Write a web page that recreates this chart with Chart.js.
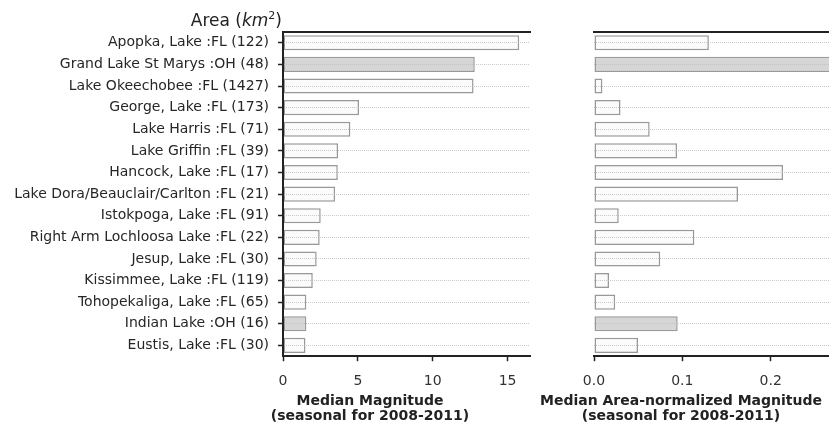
<!DOCTYPE html>
<html>
<head>
<meta charset="utf-8">
<script src="https://cdn.jsdelivr.net/npm/chart.js@4/dist/chart.umd.min.js"></script>
<style>
  body { margin: 0; background: #fff; }
  #wrap { position: relative; width: 829px; height: 424px; overflow: hidden; }
  #left { position: absolute; left: 0; top: 0; }
  #right { position: absolute; left: 533px; top: 0; }
  #area { position: absolute; left: 0; top: 9px; width: 282px; text-align: right;
          font: 17px "DejaVu Sans"; color: #222; line-height: 22px; }
  #area sup { font-size: 11px; vertical-align: 7px; line-height: 0; }
</style>
</head>
<body>
<div id="wrap">
  <canvas id="left" width="740" height="424"></canvas>
  <canvas id="right" width="296" height="424"></canvas>
  <div id="area">Area (<i>km</i><sup>2</sup>)</div>
</div>
<script>
const lakes = [
  'Apopka, Lake :FL (122)',
  'Grand Lake St Marys :OH (48)',
  'Lake Okeechobee :FL (1427)',
  'George, Lake :FL (173)',
  'Lake Harris :FL (71)',
  'Lake Griffin :FL (39)',
  'Hancock, Lake :FL (17)',
  'Lake Dora/Beauclair/Carlton :FL (21)',
  'Istokpoga, Lake :FL (91)',
  'Right Arm Lochloosa Lake :FL (22)',
  'Jesup, Lake :FL (30)',
  'Kissimmee, Lake :FL (119)',
  'Tohopekaliga, Lake :FL (65)',
  'Indian Lake :OH (16)',
  'Eustis, Lake :FL (30)'
]
const magnitude = [15.78, 12.81, 12.73, 5.08, 4.5, 3.68, 3.66, 3.48, 2.52, 2.45, 2.25, 1.99, 1.56, 1.56, 1.5]
const normalized = [0.130, 0.27, 0.0095, 0.030, 0.063, 0.094, 0.214, 0.163, 0.028, 0.1136, 0.075, 0.017, 0.024, 0.0947, 0.0498]
const magTicks = [0, 5, 10, 15]
const normTicks = [0, 0.1, 0.2]

Chart.defaults.font.family = 'DejaVu Sans'
Chart.defaults.color = '#262626'

const fills = lakes.map(l => l.includes(':OH') ? '#d6d6d6' : 'rgba(250,250,250,0.8)')

function makeChart(id, values, max, ticks, leftWidth, rightWidth, title, showLabels) {
  return new Chart(document.getElementById(id), {
    type: 'bar',
    data: {
      labels: lakes,
      datasets: [{
        data: values,
        backgroundColor: fills,
        borderColor: '#999',
        borderWidth: 1.5,
        borderSkipped: false,
        barPercentage: 0.7,
        categoryPercentage: 1
      }]
    },
    options: {
      indexAxis: 'y',
      responsive: false,
      animation: false,
      layout: { padding: 0 },
      plugins: {
        legend: { display: false },
        tooltip: { enabled: false },
        title: {
          display: true,
          position: 'bottom',
          text: title,
          color: '#222',
          font: { size: 14, weight: 'bold', lineHeight: 1.1 },
          padding: { top: 0, bottom: 0 }
        }
      },
      scales: {
        x: {
          position: 'bottom',
          min: 0,
          max: max,
          afterBuildTicks: s => { s.ticks = ticks.map(v => ({ value: v })) },
          ticks: {
            font: { size: 14 },
            color: '#333',
            padding: 12,
            callback: v => max < 1 ? v.toFixed(1) : v
          },
          grid: { drawOnChartArea: false, drawTicks: true, tickLength: 5, tickColor: '#222', tickWidth: 1.5 },
          border: { color: '#222', width: 2 },
          afterFit: s => { s.height = 37 }
        },
        x2: {
          position: 'top',
          min: 0,
          max: max,
          ticks: { display: false },
          grid: { display: false },
          border: { color: '#222', width: 2, z: 2 },
          afterFit: s => { s.height = 32 }
        },
        y: {
          ticks: {
            display: showLabels,
            font: { size: 14 },
            color: '#262626',
            padding: 9
          },
          grid: {
            z: 1,
            offset: false,
            color: '#bbb',
            lineWidth: 0.8,
            drawTicks: showLabels,
            tickLength: 5,
            tickColor: '#222',
            tickWidth: 1.5
          },
          border: { display: showLabels, color: '#222', width: 2, dash: [1, 1], z: 2 },
          afterFit: s => { s.width = leftWidth }
        },
        yr: {
          type: 'category',
          position: 'right',
          display: rightWidth > 0,
          ticks: { display: false },
          grid: { display: false },
          border: { display: false },
          afterFit: s => { s.width = rightWidth }
        }
      }
    }
  })
}

makeChart('left', magnitude, 16.5, magTicks, 283, 210,
  ['Median Magnitude', '(seasonal for 2008-2011)'], true)
makeChart('right', normalized, 0.266, normTicks, 61, 0,
  ['Median Area-normalized Magnitude', '(seasonal for 2008-2011)'], false)
</script>
</body>
</html>
